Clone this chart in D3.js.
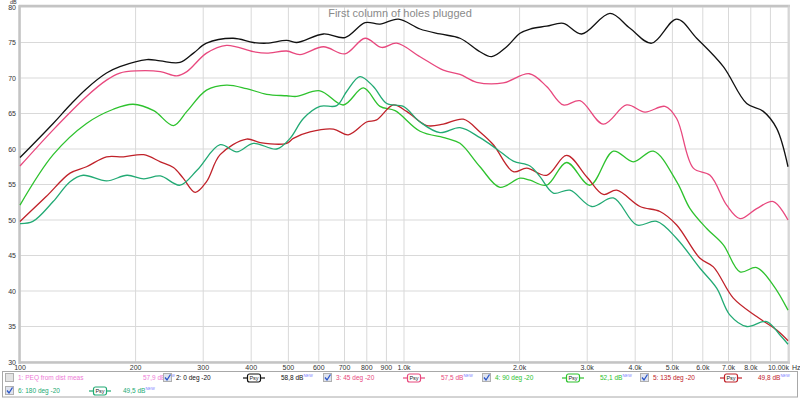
<!DOCTYPE html>
<html>
<head>
<meta charset="utf-8">
<script src="https://cdn.jsdelivr.net/npm/d3@7"></script>
<style>
  body { margin: 0; background: #fff; }
  svg { display: block; font-family: "Liberation Sans", Arial, sans-serif; }
</style>
</head>
<body>
<div id="chart"></div>
<script>
// frequency response, dB SPL vs Hz
const freqTicks = [100, 200, 300, 400, 500, 600, 700, 800, 900, 1000, 2000, 3000, 4000, 5000, 6000, 7000, 8000, 9000, 10000];
const freqLabels = ["100", "200", "300", "400", "500", "600", "700", "800", "900", "1.0k", "2.0k", "3.0k", "4.0k", "5.0k", "6.0k", "7.0k", "8.0k", "", "10.00k"];
const dbTicks = [30, 35, 40, 45, 50, 55, 60, 65, 70, 75, 80];

const deg0 = [[100,58.8],[122,63.6],[135,66.2],[149,68.5],[168,70.7],[182,71.6],[214,72.6],[232,72.4],[261,72.2],[283,73.5],[306,74.9],[359,75.6],[405,75.0],[439,74.9],[495,75.3],[525,75.0],[617,76.2],[702,75.7],[792,77.8],[866,77.6],[967,78.3],[1101,76.9],[1241,76.2],[1399,75.6],[1577,73.7],[1692,73.0],[1851,74.4],[2005,76.3],[2129,76.9],[2352,77.3],[2600,77.7],[2901,76.2],[3439,79.1],[3877,77.0],[4415,74.9],[5129,78.3],[5783,75.6],[6786,71.6],[7806,66.4],[8623,65.3],[9343,62.9],[10000,57.5]];
const deg45 = [[100,57.6],[122,62.7],[149,67.4],[168,69.7],[182,70.7],[201,71.0],[232,70.9],[256,70.3],[272,70.9],[306,73.5],[345,74.6],[405,73.7],[439,73.5],[495,73.8],[536,73.3],[617,74.4],[702,73.4],[792,75.6],[875,74.3],[957,74.9],[1101,73.0],[1266,71.1],[1399,70.5],[1546,69.4],[1814,69.3],[2120,70.6],[2352,68.8],[2600,66.2],[2873,66.8],[3304,63.5],[3800,66.2],[4242,65.2],[4783,66.0],[5129,64.3],[5668,57.3],[6266,56.3],[6923,52.1],[7499,50.2],[8286,51.6],[9158,52.6],[10000,50.0]];
const deg90 = [[100,52.1],[122,59.2],[149,63.6],[175,65.6],[197,66.3],[223,65.4],[251,63.3],[272,65.3],[306,68.3],[345,69.0],[389,68.5],[439,67.7],[495,67.5],[525,67.4],[604,68.2],[695,66.2],[784,68.6],[866,66.0],[948,65.4],[1101,62.5],[1291,61.5],[1399,60.8],[1577,57.5],[1778,54.6],[2005,55.9],[2129,55.6],[2352,54.9],[2652,58.1],[3051,54.9],[3509,59.7],[3956,58.2],[4460,59.7],[5129,55.4],[5557,51.6],[6141,48.8],[6786,46.5],[7499,42.7],[8286,43.3],[9158,40.8],[10000,37.3]];
const deg135 = [[100,49.8],[117,53.3],[135,56.6],[149,57.5],[168,58.9],[186,58.9],[210,59.2],[232,58.2],[251,57.4],[266,55.9],[286,53.9],[306,55.4],[332,59.2],[389,61.4],[422,60.9],[495,60.8],[515,61.5],[569,62.4],[655,62.8],[716,62.0],[799,63.8],[849,64.1],[938,66.2],[1016,65.3],[1146,63.3],[1266,63.5],[1427,64.2],[1577,62.4],[1709,60.6],[1926,56.8],[2087,57.3],[2352,56.3],[2652,59.1],[2990,56.1],[3304,53.6],[3580,54.2],[4117,51.9],[4641,51.2],[5129,49.3],[5900,44.6],[6391,43.4],[7205,39.0],[8286,36.4],[9343,34.5],[10000,33.0]];
const deg180 = [[100,49.5],[108,49.8],[122,52.6],[135,55.4],[146,56.3],[168,55.5],[190,56.3],[210,55.8],[232,56.2],[261,54.9],[289,57.0],[332,60.6],[367,59.6],[405,60.8],[466,60.0],[505,61.5],[547,64.3],[604,66.0],[668,66.1],[709,68.1],[768,70.2],[832,68.8],[902,66.4],[996,66.0],[1101,63.8],[1241,62.3],[1399,63.0],[1577,61.6],[1743,60.0],[1926,58.3],[2129,57.6],[2260,56.1],[2448,53.8],[2705,54.2],[3082,51.9],[3509,53.1],[4036,49.3],[4550,49.8],[5129,47.4],[5900,43.2],[6520,40.4],[7062,36.6],[7806,35.0],[8797,35.7],[9530,33.8],[10000,32.5]];

const legendNames = ["1: PEQ from dist meas", "2: 0 deg -20", "3: 45 deg -20", "4: 90 deg -20", "5: 135 deg -20", "6: 180 deg -20"];
const legendValues = ["57,9", "58,8", "57,5", "52,1", "49,8", "49,5"];
const legendChecked = [false, true, true, true, true, true];

const colors = ["#ee7ad6", "#111111", "#e8487e", "#2ec22e", "#c0222a", "#22aa74"];
const series = [null, deg0, deg45, deg90, deg135, deg180];

const W = 800, H = 399;
const svg = d3.select("#chart").append("svg").attr("width", W).attr("height", H);

const x = d3.scaleLog().domain([100, 10000]).range([20, 788]);
const y = d3.scaleLinear().domain([30, 80]).range([362, 7]);

// grid
svg.append("g").selectAll("line").data(freqTicks).join("line")
    .attr("x1", d => x(d)).attr("x2", d => x(d))
    .attr("y1", y(80)).attr("y2", y(30))
    .attr("stroke", "#d9d9d9").attr("stroke-width", 1);
svg.append("g").selectAll("line").data(dbTicks).join("line")
    .attr("x1", x(100)).attr("x2", x(10000))
    .attr("y1", d => y(d)).attr("y2", d => y(d))
    .attr("stroke", "#d9d9d9").attr("stroke-width", 1);

// frame
svg.append("line").attr("x1", 19).attr("x2", 790).attr("y1", 6).attr("y2", 6).attr("stroke", "#c4c4c4").attr("stroke-width", 2.5);
svg.append("line").attr("x1", 19).attr("x2", 790).attr("y1", 362.5).attr("y2", 362.5).attr("stroke", "#c4c4c4").attr("stroke-width", 2.5);
svg.append("line").attr("x1", 19.5).attr("x2", 19.5).attr("y1", 5).attr("y2", 364).attr("stroke", "#c4c4c4").attr("stroke-width", 2.5);
svg.append("line").attr("x1", 789).attr("x2", 789).attr("y1", 5).attr("y2", 364).attr("stroke", "#cfcfcf").attr("stroke-width", 1.5);

// axis labels
svg.append("g").selectAll("text").data(dbTicks).join("text")
    .attr("x", 16).attr("y", d => y(d) + 2.5 + (d === 80 ? 0.8 : 0))
    .attr("text-anchor", "end")
    .attr("font-size", 7).attr("fill", "#333")
    .text(d => d);
svg.append("text").attr("x", 10).attr("y", 4).attr("font-size", 5.5).attr("fill", "#333").text("dB");

svg.append("g").selectAll("text").data(freqTicks).join("text")
    .attr("x", d => d === 10000 ? x(d) + 1 : x(d))
    .attr("y", 369.5)
    .attr("text-anchor", d => d === 10000 ? "end" : "middle")
    .attr("font-size", 7).attr("fill", "#333")
    .text((d, i) => freqLabels[i]);
svg.append("text").attr("x", 792).attr("y", 369.5).attr("font-size", 7).attr("fill", "#333").text("Hz");

// title
svg.append("text").attr("x", 400).attr("y", 16.5).attr("text-anchor", "middle")
    .attr("font-size", 11).attr("fill", "#8a8a8a").text("First column of holes plugged");

// curves
const line = d3.line()
    .x(d => x(d[0])).y(d => y(d[1]))
    .curve(d3.curveCatmullRom.alpha(0.5));

const plot = svg.append("g");
series.forEach((s, i) => {
  if (!s) return;
  plot.append("path").datum(s)
      .attr("fill", "none")
      .attr("stroke", colors[i])
      .attr("stroke-width", 1.3)
      .attr("d", line);
});

// legend
svg.append("rect").attr("x", 2.5).attr("y", 371.5).attr("width", 795).attr("height", 25.5)
    .attr("fill", "none").attr("stroke", "#a8a8a8").attr("stroke-width", 1);

const colX = [5, 163, 323, 482, 640];
legendNames.forEach((name, i) => {
  const row = i < 5 ? 0 : 1;
  const cx = i < 5 ? colX[i] : colX[0];
  const cy = row === 0 ? 378 : 391;
  const g = svg.append("g").attr("transform", `translate(${cx},${cy})`);
  g.append("rect").attr("x", 0.5).attr("y", -4.5).attr("width", 8).attr("height", 8)
      .attr("fill", legendChecked[i] ? "#dfe3ee" : "#e4e4e4")
      .attr("stroke", "#b0b0b0").attr("stroke-width", 1);
  if (legendChecked[i]) {
    g.append("path").attr("d", "M2,-0.5 L4,2 L7.5,-3.5")
        .attr("fill", "none").attr("stroke", "#2a55c8").attr("stroke-width", 1.3);
  }
  g.append("text").attr("x", 13).attr("y", 2.3).attr("font-size", 6.5)
      .attr("fill", colors[i]).text(name);
  let vx = 138;
  if (i > 0) {
    const px = i === 5 ? 84 : 80;
    vx = 118;
    g.append("line").attr("x1", px).attr("x2", px + 22).attr("y1", 0).attr("y2", 0)
        .attr("stroke", colors[i]).attr("stroke-width", 1.2);
    g.append("rect").attr("x", px + 4.5).attr("y", -4).attr("width", 13).attr("height", 8)
        .attr("rx", 2).attr("fill", "#fff").attr("stroke", colors[i]).attr("stroke-width", 1.2);
    g.append("text").attr("x", px + 11).attr("y", 2.2).attr("text-anchor", "middle")
        .attr("font-size", 5.5).attr("fill", "#222").text("Psy");
  }
  const t = g.append("text").attr("x", vx).attr("y", 2.3).attr("font-size", 6.5).attr("fill", colors[i]);
  t.append("tspan").text(legendValues[i] + " dB");
  t.append("tspan").attr("dy", -3).attr("font-size", 4).attr("fill", "#7a7aff").text("NEW");
});
</script>
</body>
</html>
